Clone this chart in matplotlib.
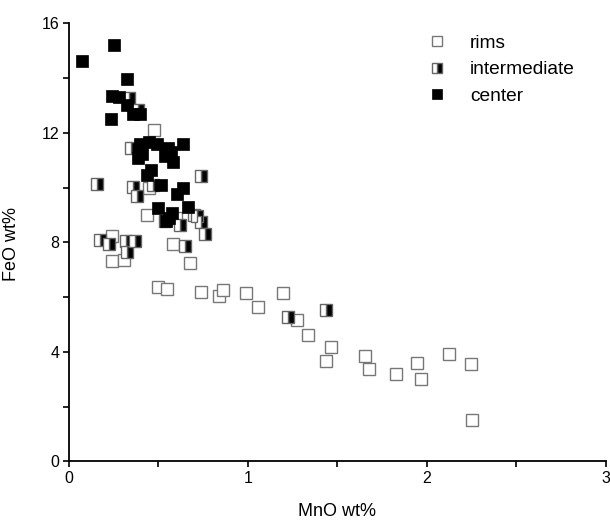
import matplotlib
matplotlib.use("Agg")
import matplotlib.pyplot as plt
from matplotlib.ticker import FixedFormatter, FixedLocator

plt.rcParams['font.family'] = ['Liberation Sans', 'DejaVu Sans']

# MnO wt% / FeO wt%
rims_mno = [0.477, 0.445, 0.437, 0.598, 0.242, 0.242, 0.307, 0.579, 0.678,
            0.495, 0.546, 0.737, 0.840, 0.859, 0.987, 1.197, 1.058, 1.276,
            1.337, 1.467, 1.438, 1.657, 1.676, 1.829, 1.946, 1.966, 2.125,
            2.246, 2.255]
rims_feo = [12.12, 10.00, 9.00, 8.89, 8.23, 7.32, 7.35, 7.96, 7.23,
            6.36, 6.30, 6.19, 6.04, 6.28, 6.16, 6.17, 5.65, 5.15,
            4.63, 4.19, 3.68, 3.85, 3.38, 3.20, 3.58, 3.00, 3.92,
            3.56, 1.51]

inter_mno = [0.335, 0.385, 0.345, 0.737, 0.156, 0.357, 0.378, 0.471, 0.536,
             0.618, 0.698, 0.737, 0.758, 0.173, 0.225, 0.317, 0.369, 0.326,
             0.646, 0.715, 1.227, 1.438]
inter_feo = [13.29, 12.82, 11.43, 10.42, 10.14, 10.03, 9.70, 10.09, 8.80,
             8.64, 8.99, 8.75, 8.29, 8.08, 7.93, 8.04, 8.04, 7.65,
             7.86, 8.95, 5.26, 5.55]

center_mno = [0.073, 0.250, 0.324, 0.242, 0.281, 0.322, 0.360, 0.397, 0.233,
              0.397, 0.447, 0.493, 0.637, 0.555, 0.573, 0.406, 0.387, 0.536,
              0.579, 0.456, 0.436, 0.514, 0.637, 0.605, 0.495, 0.667, 0.577,
              0.559, 0.545]
center_feo = [14.62, 15.20, 13.96, 13.34, 13.30, 13.00, 12.70, 12.70, 12.50,
              11.59, 11.65, 11.60, 11.61, 11.45, 11.30, 11.22, 11.08, 11.15,
              10.93, 10.66, 10.46, 10.09, 10.00, 9.75, 9.26, 9.28, 9.06,
              8.88, 8.80]

x_ticks = [0, 0.5, 1, 1.5, 2, 2.5, 3]
x_labels = ['0', '', '1', '', '2', '', '3']
y_ticks = [0, 2, 4, 6, 8, 10, 12, 14, 16]
y_labels = ['0', '', '4', '', '8', '', '12', '', '16']

fig = plt.figure(figsize=(6.1, 5.23), dpi=100)
ax = fig.add_axes([0.113, 0.1176, 0.88, 0.8378])

ms = 8.2
ax.plot(rims_mno, rims_feo, 's', ms=ms, mfc='white', mec='#777777', mew=1.0,
        label='rims', zorder=2)
ax.plot(inter_mno, inter_feo, 's', ms=ms, fillstyle='right', mfc='black',
        mfcalt='white', mec='#666666', mew=1.0, label='intermediate', zorder=3)
ax.plot(center_mno, center_feo, 's', ms=ms + 0.6, mfc='black', mec='black',
        mew=0.5, label='center', zorder=4)

ax.set_xlim(0, 3)
ax.set_ylim(0, 16)
ax.xaxis.set_major_locator(FixedLocator(x_ticks))
ax.xaxis.set_major_formatter(FixedFormatter(x_labels))
ax.yaxis.set_major_locator(FixedLocator(y_ticks))
ax.yaxis.set_major_formatter(FixedFormatter(y_labels))
ax.tick_params(direction='out', length=4, width=1.2, labelsize=11.5, pad=3)

for side in ['top', 'right']:
    ax.spines[side].set_visible(False)
for side in ['left', 'bottom']:
    ax.spines[side].set_linewidth(1.3)

ax.set_xlabel('MnO wt%', fontsize=13, labelpad=12)
ax.set_ylabel('FeO wt%', fontsize=13)
ax.yaxis.set_label_coords(-0.091, 0.496)

ax.legend(loc='upper left', bbox_to_anchor=(0.639, 1.014), frameon=False,
          fontsize=13.8, handlelength=0.8, handletextpad=1.33,
          labelspacing=0.47, markerscale=0.8)

fig.savefig('out.png', dpi=100)
